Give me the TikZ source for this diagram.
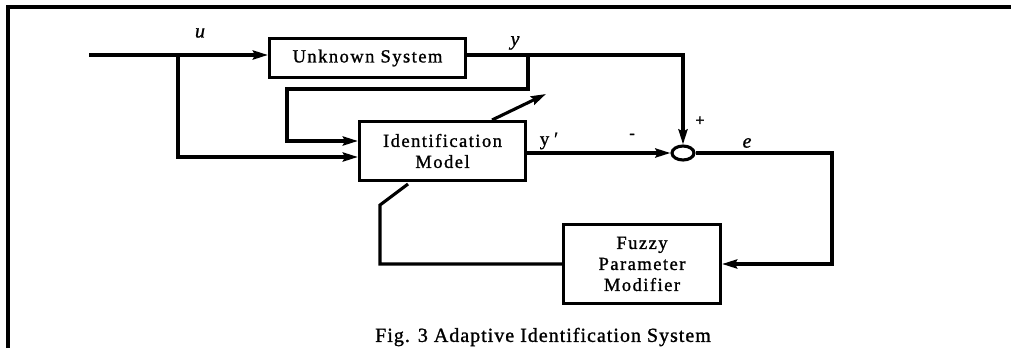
\documentclass[tikz,border=0pt]{standalone}
\usepackage{fontspec}
\setmainfont{Liberation Serif}
\usetikzlibrary{positioning,arrows.meta,shapes.geometric}

\newcommand{\blockfont}{\fontsize{18.5}{21}\selectfont\addfontfeature{LetterSpace=8,FakeBold=1.2}}
\newcommand{\signalfont}{\fontsize{20}{21}\selectfont\itshape\addfontfeature{FakeBold=1}}
\newcommand{\signfont}{\fontsize{16}{16}\selectfont\addfontfeature{FakeBold=2}}

\begin{document}
\begin{tikzpicture}[x=1pt, y=-1pt,
    block/.style={rectangle, draw=black, line width=3.1pt, inner sep=0pt, align=center, font=\blockfont},
    sumnode/.style={ellipse, draw=black, line width=3.1pt, minimum width=22pt, minimum height=14pt, inner sep=0pt},
    wire/.style={line width=3.1pt},
    feed/.style={wire, -{Stealth[length=15pt, width=9pt, inset=2pt]}},
    signal/.style={inner sep=0pt, font=\signalfont}
    ]
        \useasboundingbox (0,0) rectangle (1011,348);
        \draw[line width=3.4pt] (8,348) -- (8,7) -- (1011,7);

        %Nodes
        \node[block, minimum width=196pt, minimum height=39pt]
            (us)    at (367.5,58)   {Unknown System};
        \node[block, minimum width=166pt, minimum height=59pt]
            (idm)   at (442.5,151)  {Identification\\Model};
        \node[block, minimum width=157pt, minimum height=79pt]
            (fpm)   at (642,264)    {Fuzzy\\Parameter\\Modifier};
        \node[sumnode]
            (sum)   at (683,153)    {};

        %Bends
        \coordinate (in)    at (89,55);
        \coordinate (split) at (178,55);
        \coordinate (ytap)  at (528,55);
        \coordinate (fbl)   at (287,89);
        \coordinate (eturn) at (832,153);
        \coordinate (pbend) at (380,205);
        \coordinate (pin)   at (408,184);
        \coordinate (pout)  at (492,120);
        \coordinate (ptip)  at (546,94);

        %Lines
        \draw[feed] (in) -- (in -| us.west);
        \draw[feed] (split) |- ([yshift=-6pt]idm.west);
        \draw[feed] (us.east |- in) -| (sum.north);
        \draw[feed] (ytap) |- (fbl) |- ([yshift=10pt]idm.west);
        \draw[feed] (idm.east |- sum.west) -- (sum.west);
        \draw[feed] (sum.east) -- (eturn) |- (fpm.east);
        \draw[wire] (fpm.west) -| (pbend) -- (pin);
        \draw[feed] (pout) -- (ptip);

        %Labels
        \node[signal] (ulbl)  at (200,33)  {u};
        \node[signal] (ylbl)  at (515,43)  {y};
        \node[signal, font=\fontsize{19}{20}\selectfont\addfontfeature{FakeBold=1}]
            (yplbl) at (549,141) {y ′};
        \node[signal, font=\signfont] (minus) at (632,136) {-};
        \node[signal, font=\signfont] (plus)  at (700,121) {+};
        \node[signal] (elbl)  at (747,143) {e};
        \node[inner sep=0pt, font=\fontsize{20}{22}\selectfont\addfontfeature{LetterSpace=5,FakeBold=1.2}]
            (caption) at (543,337) {Fig. 3 Adaptive Identification System};
    \end{tikzpicture}
\end{document}
